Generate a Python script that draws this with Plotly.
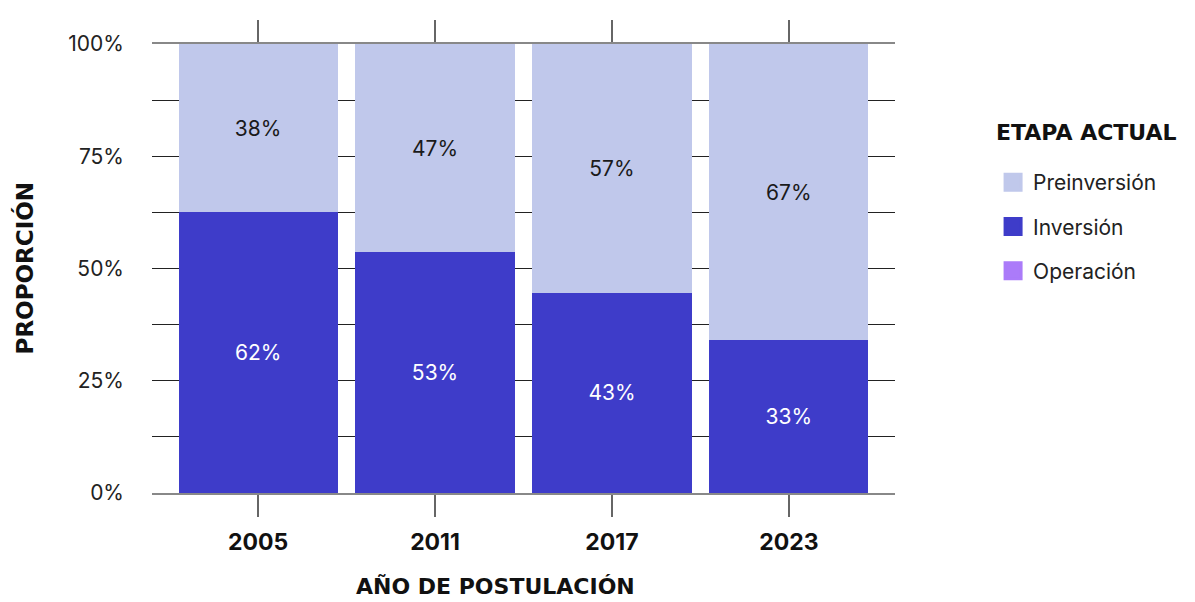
import plotly.graph_objects as go

years = ["2005", "2011", "2017", "2023"]
inversion = [62.5, 53.6, 44.6, 34.0]
preinversion = [37.5, 46.4, 55.4, 66.0]
operacion = [0, 0, 0, 0]
inv_labels = ["62%", "53%", "43%", "33%"]
pre_labels = ["38%", "47%", "57%", "67%"]
ytick_vals = [0, 25, 50, 75, 100]
ytick_text = ["0%", "25%", "50%", "75%", "100%"]
series_names = ["Preinversión", "Inversión", "Operación"]
colors = {"Preinversión": "#C0C8EB", "Inversión": "#3E3CC9", "Operación": "#AB7BF9"}

FONT = "Inter, Lato, sans-serif"
TFONT = "DejaVu Sans, sans-serif"

fig = go.Figure()
fig.add_trace(go.Bar(
    x=years, y=inversion, name="Inversión", marker_color=colors["Inversión"],
    marker_line_width=0, width=0.9, text=inv_labels, textposition="inside",
    insidetextanchor="middle", textfont=dict(color="white", size=21, family=FONT),
    showlegend=False, hoverinfo="skip"))
fig.add_trace(go.Bar(
    x=years, y=preinversion, name="Preinversión", marker_color=colors["Preinversión"],
    marker_line_width=0, width=0.9, text=pre_labels, textposition="inside",
    insidetextanchor="middle", textfont=dict(color="#1a1a1a", size=21, family=FONT),
    showlegend=False, hoverinfo="skip"))
fig.add_trace(go.Bar(
    x=years, y=operacion, name="Operación", marker_color=colors["Operación"],
    marker_line_width=0, width=0.9, showlegend=False, hoverinfo="skip"))

for i, nm in enumerate(series_names):
    fig.add_trace(go.Scatter(
        x=[None], y=[None], mode="markers", name=nm, legendgroup=nm,
        marker=dict(symbol="square", size=16, color=colors[nm],
                    line=dict(width=3, color=colors[nm])),
        showlegend=True))

fig.update_layout(
    barmode="stack",
    width=1187, height=594,
    margin=dict(l=144, r=300, t=31, b=109),
    plot_bgcolor="white", paper_bgcolor="white",
    font=dict(family=FONT, size=21, color="#1a1a1a"),
    legend=dict(
        x=1.132, y=0.737, xanchor="left", yanchor="top",
        traceorder="grouped", tracegroupgap=14,
        font=dict(size=21, color="#222"),
        itemsizing="trace",
    ),
    annotations=[
        dict(text="PROPORCIÓN", xref="paper", yref="paper", x=-0.171, y=0.5,
             textangle=-90, showarrow=False, xanchor="center", yanchor="middle",
             font=dict(size=23, weight="bold", color="#111", family=TFONT)),
        dict(text="AÑO DE POSTULACIÓN", xref="paper", yref="paper", x=0.4617, y=-0.2075,
             showarrow=False, xanchor="center", yanchor="middle",
             font=dict(size=22, weight="bold", color="#111", family=TFONT)),
        dict(text="ETAPA ACTUAL", xref="paper", yref="paper", x=(994 - 152) / 743,
             y=(493 - 129) / 453, showarrow=False, xanchor="left", yanchor="middle",
             font=dict(size=22, weight="bold", color="#111", family=TFONT)),
    ],
)

fig.update_xaxes(
    type="category", range=[-0.6, 3.6],
    showline=True, linecolor="#888", linewidth=2, mirror="ticks",
    ticks="outside", ticklen=22, tickwidth=2, tickcolor="#666",
    showgrid=False, ticklabelstandoff=5,
    tickfont=dict(size=23, weight="bold", color="#111"),
)
fig.update_yaxes(
    range=[0, 100], tickvals=ytick_vals, ticktext=ytick_text,
    showgrid=True, gridcolor="#222", gridwidth=1,
    minor=dict(dtick=12.5, tick0=0, showgrid=True, gridcolor="#222", gridwidth=1),
    zeroline=False, showline=False, ticks="",
    ticklabelstandoff=27,
    tickfont=dict(size=21, color="#222"),
)

fig.write_html("out.html")
